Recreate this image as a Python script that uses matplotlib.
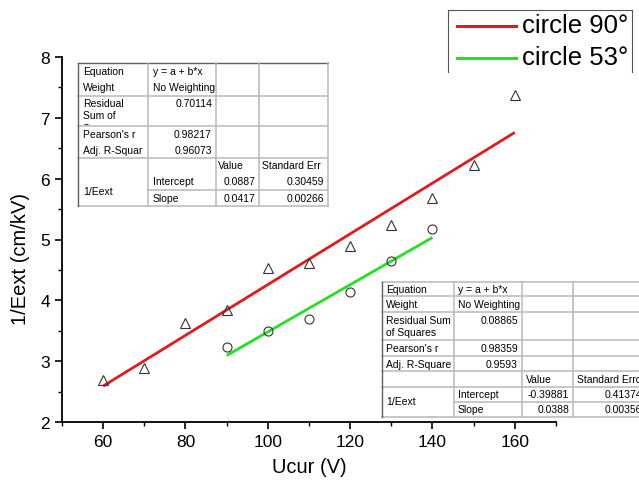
import numpy as np
import matplotlib
matplotlib.use("Agg")
import matplotlib.pyplot as plt
from matplotlib.lines import Line2D
from matplotlib.patches import Rectangle

plt.rcParams['font.family'] = ['Liberation Sans', 'DejaVu Sans']

# ---------------- data ----------------
ucur_90 = [60, 70, 80, 90, 100, 110, 120, 130, 140, 150, 160]
inv_eext_90 = [2.69, 2.89, 3.62, 3.84, 4.53, 4.61, 4.89, 5.24, 5.68, 6.22, 7.38]
ucur_53 = [90, 100, 110, 120, 130, 140]
inv_eext_53 = [3.23, 3.50, 3.69, 4.14, 4.64, 5.18]

fit_90 = {"intercept": 0.0887, "slope": 0.0417}
fit_53 = {"intercept": -0.39881, "slope": 0.0388}

legend_labels = ["circle 90°", "circle 53°"]
x_ticks = [60, 80, 100, 120, 140, 160]
y_ticks = [2, 3, 4, 5, 6, 7, 8]

table1 = {
    "Equation": "y = a + b*x", "Weight": "No Weighting",
    "RSS": "0.70114", "Pearson": "0.98217", "AdjR2": "0.96073",
    "Int": "0.0887", "IntErr": "0.30459", "Slope": "0.0417", "SlopeErr": "0.00266",
}
table2 = {
    "Equation": "y = a + b*x", "Weight": "No Weighting",
    "RSS": "0.08865", "Pearson": "0.98359", "AdjR2": "0.9593",
    "Int": "-0.39881", "IntErr": "0.41374", "Slope": "0.0388", "SlopeErr": "0.00356",
}

# ---------------- figure ----------------
W, H = 639, 489
fig = plt.figure(figsize=(W / 100, H / 100), dpi=100)
fig.patch.set_facecolor('white')


def fx(px):
    return px / W


def fy(py):
    return 1 - py / H


ax = fig.add_axes([fx(62), fy(423), 494 / W, 365 / H])
ax.set_xlim(50, 170)
ax.set_ylim(2, 8)

x90 = np.array(ucur_90, dtype=float)
x53 = np.array(ucur_53, dtype=float)
xr90 = np.array([x90.min(), x90.max()])
xr53 = np.array([x53.min(), x53.max()])
ax.plot(xr90, fit_90["intercept"] + fit_90["slope"] * xr90, color='#e31a1c', lw=2.0,
        solid_capstyle='butt', zorder=2)
ax.plot(xr53, fit_53["intercept"] + fit_53["slope"] * xr53, color='#22e022', lw=2.0,
        solid_capstyle='butt', zorder=2)
ax.plot(x90, inv_eext_90, ls='none', marker='^', ms=7.5, mfc='none', mec='#333333', mew=0.8, zorder=3)
ax.plot(x53, inv_eext_53, ls='none', marker='o', ms=6.5, mfc='none', mec='#333333', mew=0.8, zorder=3)

for s in ['top', 'right']:
    ax.spines[s].set_visible(False)
for s in ['left', 'bottom']:
    ax.spines[s].set_linewidth(1.3)
ax.set_xticks(x_ticks)
ax.set_yticks(y_ticks)
ax.set_xticks(np.arange(50, 171, 10), minor=True)
ax.set_yticks(np.arange(2, 8.01, 0.5), minor=True)
ax.tick_params(axis='both', which='major', direction='out', length=5, width=1.2, labelsize=12.5)
ax.tick_params(axis='both', which='minor', direction='out', length=3, width=1.0)
ax.set_xlabel("Ucur (V)", fontsize=14.5, labelpad=6)
ax.set_ylabel("1/Eext (cm/kV)", fontsize=14.5)
ax.yaxis.set_label_coords(-0.065, 0.45)

# ---------------- legend ----------------
lc = '#555555'
for (x0, y0, x1, y1) in [(448, 11, 448, 73), (448, 11, 632, 11), (632, 11, 632, 73)]:
    fig.add_artist(Line2D([fx(x0), fx(x1)], [fy(y0), fy(y1)], color=lc, lw=0.8,
                          transform=fig.transFigure))
for i, (lab, col) in enumerate(zip(legend_labels, ['#e31a1c', '#22e022'])):
    yy = 27 + 32 * i
    fig.add_artist(Line2D([fx(457), fx(516)], [fy(yy), fy(yy)], color=col, lw=2.2,
                          transform=fig.transFigure))
    fig.text(fx(522), fy(yy - 1), lab, fontsize=18.5, va='center', ha='left')

# ---------------- tables ----------------
FS = 7.5
outer = '#606060'
inner = '#b8b8b8'


def hline(x0, x1, y, c=inner, lw=1.1):
    fig.add_artist(Line2D([fx(x0), fx(x1)], [fy(y), fy(y)], color=c, lw=lw,
                          transform=fig.transFigure, zorder=5))


def vline(x, y0, y1, c=inner, lw=1.1):
    fig.add_artist(Line2D([fx(x), fx(x)], [fy(y0), fy(y1)], color=c, lw=lw,
                          transform=fig.transFigure, zorder=5))


def txt(x, y, s, ha='left', clip=None):
    t = fig.text(fx(x), fy(y), s, fontsize=FS, ha=ha, va='center', zorder=6)
    if clip is not None:
        r = Rectangle((fx(clip[0]), fy(clip[3])), fx(clip[2]) - fx(clip[0]),
                      fy(clip[1]) - fy(clip[3]), transform=fig.transFigure)
        t.set_clip_path(r)
    return t


# Table 1
c = [78, 148, 216, 259, 328]
top, bot = 64, 207
fig.add_artist(Rectangle((fx(c[0]), fy(bot)), fx(c[-1]) - fx(c[0]), fy(top) - fy(bot),
                         transform=fig.transFigure, facecolor='white', edgecolor='none', zorder=4))
for y in [97, 127, 159]:
    hline(c[0], c[-1], y)
hline(c[1], c[-1], 191)
hline(c[0], c[-1], bot)
hline(c[0], c[-1], top, c=outer, lw=1.0)
vline(c[0], top, bot, c=outer, lw=1.0)
for x in c[1:]:
    vline(x, top, bot)
L1, L2 = c[0] + 5, c[1] + 5
R2, R3, R4 = c[2] - 4, c[3] - 4, c[4] - 4
txt(L1, 72, "Equation"); txt(L2, 72, table1["Equation"])
txt(L1, 88, "Weight"); txt(L2, 88, table1["Weight"])
txt(L1, 104, "Residual"); txt(L1, 116, "Sum of")
txt(L1, 129, "Squares", clip=(c[0], 97, c[1], 126))
txt(R2, 104, table1["RSS"], ha='right')
txt(L1, 135, "Pearson's r"); txt(R2, 135, table1["Pearson"], ha='right')
txt(L1, 151, "Adj. R-Squar", clip=(c[0], 127, c[1] - 1, 159)); txt(R2, 151, table1["AdjR2"], ha='right')
txt(c[2] + 2, 166, "Value"); txt(c[3] + 3, 166, "Standard Err", clip=(c[3], 159, c[4], 191))
txt(L1, 192, "1/Eext")
txt(L2, 182, "Intercept"); txt(R3, 182, table1["Int"], ha='right'); txt(R4, 182, table1["IntErr"], ha='right')
txt(L2, 199, "Slope"); txt(R3, 199, table1["Slope"], ha='right'); txt(R4, 199, table1["SlopeErr"], ha='right')

# Table 2
c = [382, 454, 522, 573, 644]
rows = [283, 297, 313, 341, 357, 372, 388, 403, 418]
top, bot = rows[0], rows[-1]
fig.add_artist(Rectangle((fx(c[0]), fy(bot)), fx(c[-1]) - fx(c[0]), fy(top) - fy(bot),
                         transform=fig.transFigure, facecolor='white', edgecolor='none', zorder=4))
for y in rows[1:-2]:
    hline(c[0], c[-1], y)
hline(c[1], c[-1], rows[-2])
hline(c[0], c[-1], bot, c=inner)
hline(c[0], c[-1], top, c=inner)
vline(c[0], top, bot, c=outer, lw=1.0)
for x in c[1:4]:
    vline(x, top, bot)
L1, L2 = c[0] + 4, c[1] + 4
R2, R3, R4 = c[2] - 4, c[3] - 4, 642
txt(L1, 290, "Equation"); txt(L2, 290, table2["Equation"])
txt(L1, 305, "Weight"); txt(L2, 305, table2["Weight"])
txt(L1, 321, "Residual Sum"); txt(L1, 333, "of Squares")
txt(R2, 321, table2["RSS"], ha='right')
txt(L1, 349, "Pearson's r"); txt(R2, 349, table2["Pearson"], ha='right')
txt(L1, 365, "Adj. R-Square"); txt(R2, 365, table2["AdjR2"], ha='right')
txt(c[2] + 4, 380, "Value"); txt(c[3] + 4, 380, "Standard Error")
txt(L1, 402, "1/Eext")
txt(L2, 395, "Intercept"); txt(R3, 395, table2["Int"], ha='right'); txt(R4, 395, table2["IntErr"], ha='right')
txt(L2, 410, "Slope"); txt(R3, 410, table2["Slope"], ha='right'); txt(R4, 410, table2["SlopeErr"], ha='right')

fig.savefig("out.png", dpi=100, facecolor='white')
